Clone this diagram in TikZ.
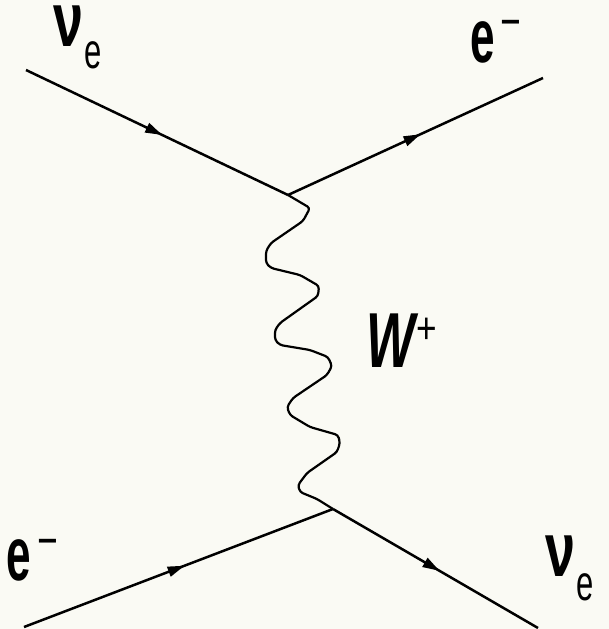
\documentclass[tikz,border=0pt]{standalone}
\usepackage{fontspec}
\setmainfont{Liberation Sans}
\usepackage{graphicx}
\usetikzlibrary{arrows.meta,decorations.markings}
\definecolor{bgcream}{RGB}{250,250,244}
\newcommand\fdNu{\scalebox{0.7}[1]{\fontsize{77}{77}\selectfont\bfseries ν}}
\newcommand\fdSubE{\scalebox{0.62}[1]{\fontsize{50}{50}\selectfont e}}
\newcommand\fdE{\scalebox{0.58}[1]{\fontsize{76}{76}\selectfont\bfseries e}}
\newcommand\fdMinus{{\fontsize{34}{34}\selectfont\bfseries −}}
\newcommand\fdW{\scalebox{0.66}[1]{\fontsize{78}{78}\selectfont\bfseries\itshape W}}
\newcommand\fdPlus{\scalebox{0.8}[1]{\fontsize{44}{44}\selectfont +}}
\begin{document}
\begin{tikzpicture}[x=1pt,y=-1pt,
  fermion/.style={line width=2.5pt,
    decoration={markings, mark=at position 0.52 with {\arrow{Triangle[length=17pt,width=10pt]}}},
    postaction={decorate}},
  boson/.style={line width=2.2pt, rounded corners=3pt},
  lbl/.style={anchor=base west, inner sep=0pt, outer sep=0pt}]
\fill[bgcream] (0,0) rectangle (609,629);
\useasboundingbox (0,0) rectangle (609,629);
\coordinate (v1) at (288,195);
\coordinate (v2) at (333,509);
\coordinate (a1) at (26,70);
\coordinate (b1) at (543,78);
\coordinate (a2) at (24,627);
\coordinate (b2) at (538,628);
\draw[fermion] (a1) -- (v1);
\draw[fermion] (v1) -- (b1);
\draw[fermion] (a2) -- (v2);
\draw[fermion] (v2) -- (b2);
\draw[boson] (v1) -- (310,208) -- (303,221) -- (271,243) -- (266,251) -- (266,263) -- (271,268)
  -- (300,275) -- (319,286) -- (318,296) -- (280,323) -- (275,330) -- (275,340) -- (280,345)
  -- (310,350) -- (328,357) -- (332,366) -- (327,375) -- (293,398) -- (287,407) -- (290,415)
  -- (310,427) -- (338,435) -- (340,443) -- (337,452) -- (307,473) -- (298,485) -- (300,492)
  -- (317,499) -- (v2);
\node[lbl] (nuTL) at (53,46) {\fdNu\hspace{2pt}\raisebox{-22pt}{\fdSubE}};
\node[lbl] (eTR) at (470,62) {\fdE\hspace{6pt}\raisebox{29pt}{\fdMinus}};
\node[lbl] (wlab) at (366,367) {\fdW\hspace{2pt}\raisebox{24pt}{\fdPlus}};
\node[lbl] (eBL) at (6,580) {\fdE\hspace{7pt}\raisebox{28pt}{\fdMinus}};
\node[lbl] (nuBR) at (545,576) {\fdNu\hspace{2pt}\raisebox{-24pt}{\fdSubE}};
\end{tikzpicture}
\end{document}
